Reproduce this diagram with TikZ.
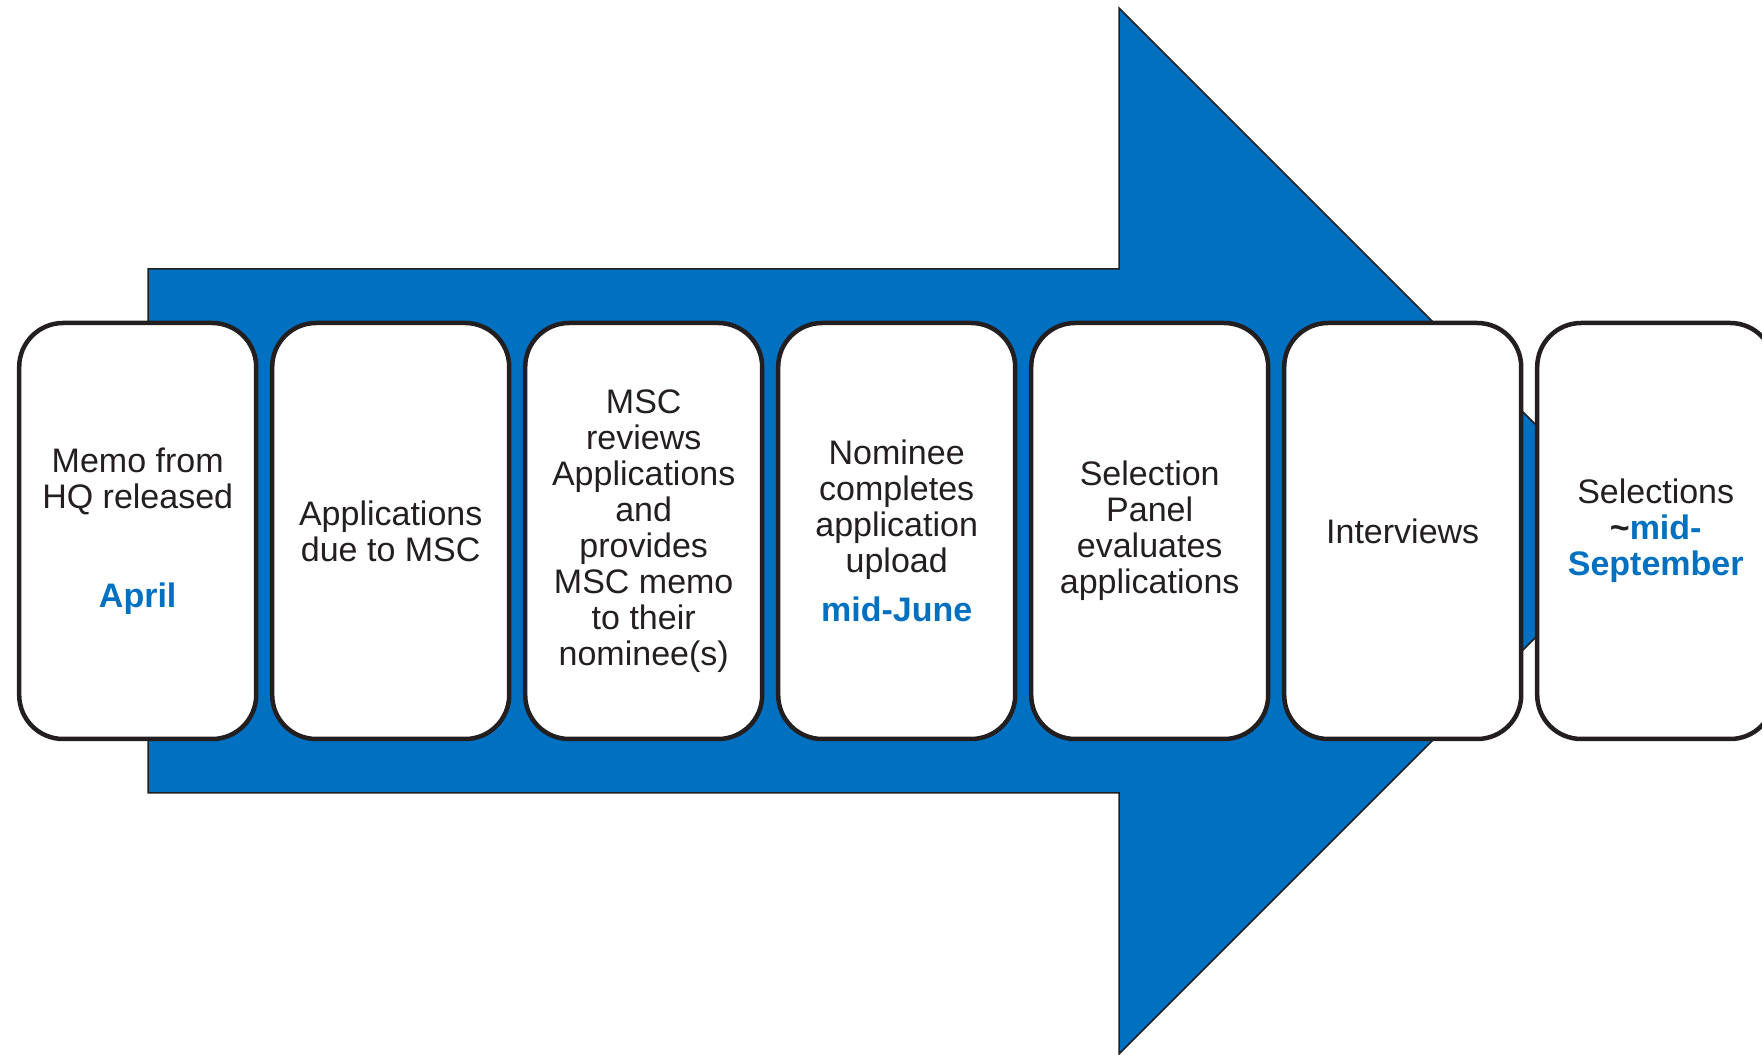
\documentclass[tikz,border=0pt]{standalone}
\usepackage{fontspec}
\setmainfont{Liberation Sans}
\usepackage{tikz}
\usetikzlibrary{positioning}
\pgfdeclarelayer{bg}
\pgfsetlayers{bg,main}
\definecolor{arrowblue}{RGB}{0,112,192}
\definecolor{inkgray}{RGB}{35,31,32}
\newcommand{\when}[1]{\textcolor{arrowblue}{\textbf{#1}}}

\begin{document}
\begin{tikzpicture}[x=1pt, y=1pt,
    stage/.style={draw=inkgray, line width=4.5pt, fill=white,
      rounded corners=44pt, minimum width=237pt, minimum height=416pt,
      align=center, text=inkgray, font=\fontsize{34}{36}\selectfont},
    node distance=11.5pt
    ]
    \path[use as bounding box, clip] (0,0) rectangle (1762,1055);
    \node[stage] (memo) at (137.7,524)
      {Memo from\\HQ released\\[63pt]\when{April}};
    \node[stage, right=of memo] (due) {Applications\\due to MSC};
    \node[stage, right=of due] (review)
      {MSC\\reviews\\Applications\\and\\provides\\MSC memo\\to their\\nominee(s)};
    \node[stage, right=of review] (upload)
      {Nominee\\completes\\application\\upload\\[13.5pt]\when{mid-June}};
    \node[stage, right=of upload] (panel)
      {Selection\\Panel\\evaluates\\applications};
    \node[stage, right=of panel] (interview) {Interviews};
    \node[stage, right=of interview] (select)
      {Selections\\\textbf{\textasciitilde}\when{mid-}\\\when{September}};
    \begin{pgfonlayer}{bg}
      \draw[fill=arrowblue, draw=inkgray, line width=1.5pt]
        (148,786) -- (1119,786) -- (1119,1047) -- (1642,524)
        -- (1119,1) -- (1119,262) -- (148,262) -- cycle;
    \end{pgfonlayer}
\end{tikzpicture}
\end{document}
